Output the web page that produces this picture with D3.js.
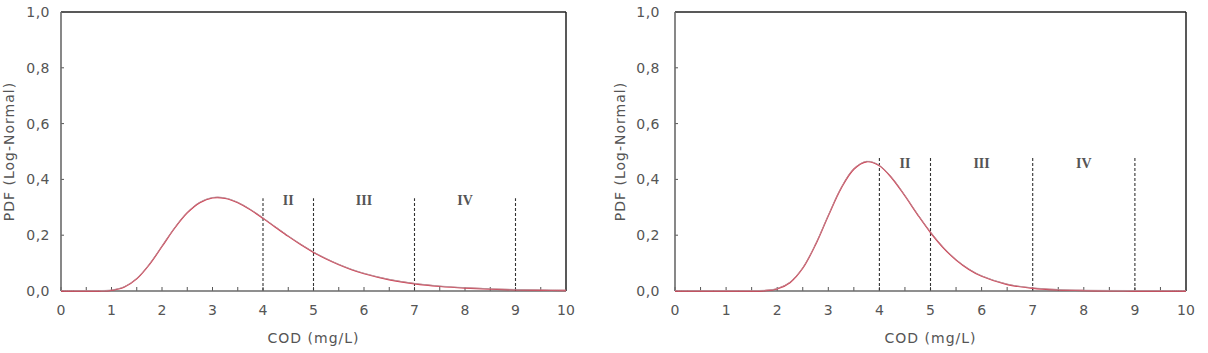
<!DOCTYPE html>
<html>
<head>
<meta charset="utf-8">
<script src="https://cdn.jsdelivr.net/npm/d3@7"></script>
<style>
  html, body { margin: 0; padding: 0; background: #fff; }
  svg { display: block; }
  text { font-family: "DejaVu Sans", sans-serif; fill: #555; }
</style>
</head>
<body>
<svg id="chart" width="1208" height="353"></svg>
<script>
// ---------- data ----------
const codGrid = [0,0.25,0.5,0.75,1,1.25,1.5,1.75,2,2.25,2.5,2.75,3,3.25,3.5,3.75,4,4.25,4.5,4.75,5,5.25,5.5,5.75,6,6.5,7,7.5,8,8.5,9,9.5,10];
const pdfLeft = [0,0,0,0.0001,0.0024,0.0139,0.0439,0.0949,0.1596,0.2254,0.2803,0.3170,0.3337,0.3322,0.3165,0.2913,0.2608,0.2282,0.1961,0.1660,0.1388,0.1149,0.0943,0.0768,0.0623,0.0404,0.0259,0.0165,0.0105,0.0066,0.0042,0.0026,0.0017];
const pdfRight = [0,0,0,0,0,0,0.0001,0.0011,0.0076,0.0302,0.0819,0.1662,0.2698,0.3680,0.4368,0.4635,0.4490,0.4035,0.3407,0.2732,0.2098,0.1552,0.1114,0.0778,0.0532,0.0235,0.0099,0.0040,0.0015,0.0006,0.0002,0.0001,0];
const gradeBounds = [4, 5, 7, 9];
const boundTopLeft = 0.332;
const boundTopRight = 0.482;
const gradeLabels = ["II", "III", "IV"];
const gradeLabelX = [4.5, 6, 8];
const gradeLabelYLeft = 0.325;
const gradeLabelYRight = 0.457;
const xTicks = [0,1,2,3,4,5,6,7,8,9,10];
const xMinorTicks = d3.range(0, 10.01, 0.5);
const yTicks = [0, 0.2, 0.4, 0.6, 0.8, 1.0];
const xTitle = "COD (mg/L)";
const yTitle = "PDF (Log-Normal)";

// ---------- layout ----------
const panels = [
  { left: 61, right: 566, top: 12, bottom: 291, values: pdfLeft, boundTop: boundTopLeft, labelY: gradeLabelYLeft, yTitleX: 9, yLabOff: 11 },
  { left: 675, right: 1186, top: 12, bottom: 291, values: pdfRight, boundTop: boundTopRight, labelY: gradeLabelYRight, yTitleX: 620, yLabOff: 15 }
];

const svg = d3.select("#chart");
const locale = d3.formatLocale({ decimal: ",", thousands: ".", grouping: [3], currency: ["", ""] });
const fmtY = locale.format(".1f");

panels.forEach(p => {
  const x = d3.scaleLinear().domain([0, 10]).range([p.left, p.right]);
  const y = d3.scaleLinear().domain([0, 1]).range([p.bottom, p.top]);
  const g = svg.append("g");

  // frame: top & right black
  g.append("line").attr("x1", p.left).attr("x2", p.right).attr("y1", p.top).attr("y2", p.top)
    .attr("stroke", "#222").attr("stroke-width", 1.5);
  g.append("line").attr("x1", p.right).attr("x2", p.right).attr("y1", p.top).attr("y2", p.bottom)
    .attr("stroke", "#222").attr("stroke-width", 1.5);

  // minor/major x ticks (inside, upward)
  g.selectAll(".xt").data(xMinorTicks).enter().append("line")
    .attr("x1", d => x(d)).attr("x2", d => x(d))
    .attr("y1", p.bottom).attr("y2", p.bottom - 4)
    .attr("stroke", "#555").attr("stroke-width", 1);
  // y ticks (inside)
  g.selectAll(".yt").data(yTicks).enter().append("line")
    .attr("x1", p.left).attr("x2", p.left + 3)
    .attr("y1", d => y(d)).attr("y2", d => y(d))
    .attr("stroke", "#555").attr("stroke-width", 1);

  // dashed class boundaries
  g.selectAll(".bd").data(gradeBounds).enter().append("line")
    .attr("x1", d => x(d)).attr("x2", d => x(d))
    .attr("y1", y(0)).attr("y2", y(p.boundTop))
    .attr("stroke", "#333").attr("stroke-width", 1.1).attr("stroke-dasharray", "3,2");

  // left & bottom axes (gray)
  g.append("line").attr("x1", p.left).attr("x2", p.left).attr("y1", p.top).attr("y2", p.bottom)
    .attr("stroke", "#6a6a6a").attr("stroke-width", 1.6);
  g.append("line").attr("x1", p.left).attr("x2", p.right).attr("y1", p.bottom).attr("y2", p.bottom)
    .attr("stroke", "#6a6a6a").attr("stroke-width", 1.6);

  // curve
  const pts = codGrid.map((c, i) => [c, p.values[i]]);
  const line = d3.line().x(d => x(d[0])).y(d => y(d[1])).curve(d3.curveCatmullRom.alpha(0.5));
  g.append("path").datum(pts).attr("d", line)
    .attr("fill", "none").attr("stroke", "#d4384c").attr("stroke-width", 1.4);
  g.append("path").datum(pts).attr("d", line)
    .attr("fill", "none").attr("stroke", "#b49aa0").attr("stroke-width", 1.0).attr("opacity", 0.8)
    .attr("transform", "translate(0,-0.4)");

  // grade labels (serif roman numerals)
  g.selectAll(".gl").data(gradeLabels).enter().append("text")
    .attr("x", (d, i) => x(gradeLabelX[i])).attr("y", y(p.labelY))
    .attr("text-anchor", "middle").attr("dominant-baseline", "central")
    .style("font-family", "'Liberation Serif', 'DejaVu Serif', serif")
    .style("font-size", "14px").style("font-weight", "bold").style("fill", "#555")
    .text(d => d);

  // x tick labels
  g.selectAll(".xl").data(xTicks).enter().append("text")
    .attr("x", d => x(d)).attr("y", 310)
    .attr("text-anchor", "middle").attr("dominant-baseline", "central")
    .style("font-size", "14px")
    .text(d => d);

  // y tick labels
  g.selectAll(".yl").data(yTicks).enter().append("text")
    .attr("x", p.left - p.yLabOff).attr("y", d => y(d))
    .attr("text-anchor", "end").attr("dominant-baseline", "central")
    .style("font-size", "14px").style("letter-spacing", "0.5px")
    .text(d => fmtY(d));

  // axis titles
  g.append("text")
    .attr("x", (p.left + p.right) / 2).attr("y", 338)
    .attr("text-anchor", "middle").attr("dominant-baseline", "central")
    .style("font-size", "14px").style("letter-spacing", "1px")
    .text(xTitle);
  g.append("text")
    .attr("transform", `translate(${p.yTitleX},${(p.top + p.bottom) / 2}) rotate(-90)`)
    .attr("text-anchor", "middle").attr("dominant-baseline", "central")
    .style("font-size", "14px").style("letter-spacing", "1px")
    .text(yTitle);
});
</script>
</body>
</html>
